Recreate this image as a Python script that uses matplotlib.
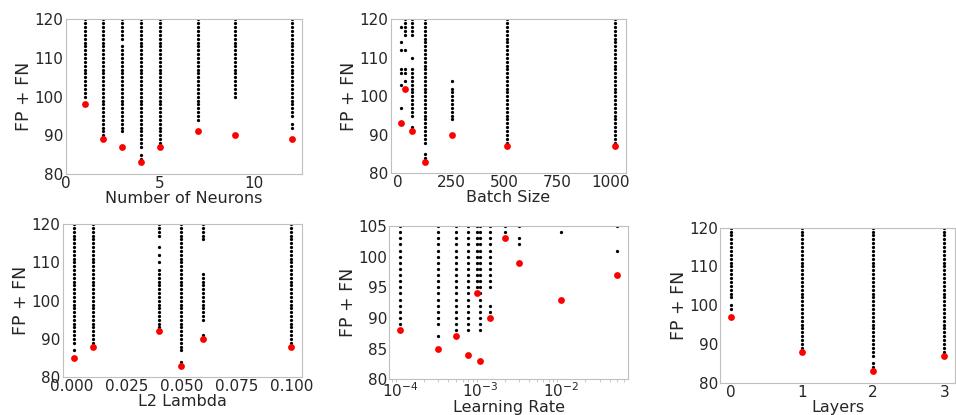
import numpy as np
import matplotlib
matplotlib.use("Agg")
import matplotlib.pyplot as plt


def runs(*spans):
    # spans are single values or (low, high) inclusive runs
    vals = []
    for s in spans:
        if isinstance(s, tuple):
            vals.extend(range(s[0], s[1] + 1))
        else:
            vals.append(s)
    return vals


# --- Number of Neurons ---
neurons_x = [1, 2, 3, 4, 5, 7, 9, 12]
neurons_best = [98, 89, 87, 83, 87, 91, 90, 89]
neurons_runs = [
    runs((100, 120)),
    runs((90, 120)),
    runs((91, 113), (115, 120)),
    runs(84, 85, (87, 120)),
    runs((88, 120)),
    runs((94, 120)),
    runs((100, 120)),
    runs(92, 93, (95, 120)),
]

# --- Batch Size ---
batch_x = [16, 32, 64, 128, 256, 512, 1024]
batch_best = [93, 102, 91, 83, 90, 87, 87]
batch_runs = [
    runs(97, 103, 106, 107, 112, 114, 118),
    runs(104, 106, 107, 112, (116, 120)),
    runs(92, (95, 107), 110, (116, 120)),
    runs(84, 85, (88, 120)),
    runs((94, 102), 104),
    runs((88, 120)),
    runs((88, 120)),
]

# --- L2 Lambda ---
l2_x = [0.001, 0.01, 0.04, 0.05, 0.06, 0.1]
l2_best = [85, 88, 92, 83, 90, 88]
l2_runs = [
    runs(87, (89, 120)),
    runs((89, 120)),
    runs(93, (94, 108), 110, 112, 114, (117, 120)),
    runs(84, (87, 120)),
    runs(91, (95, 107), (116, 120)),
    runs((89, 120)),
]

# --- Learning Rate ---
lr_x = [1e-4, 3e-4, 5e-4, 7e-4, 9e-4, 1e-3, 1.3e-3, 2e-3, 3e-3, 1e-2, 5e-2]
lr_best = [88, 85, 87, 84, 94, 83, 90, 103, 99, 93, 97]
lr_runs = [
    runs((89, 105)),
    runs(87, (89, 105)),
    runs((88, 105)),
    runs((88, 105)),
    runs((95, 105)),
    runs((88, 105)),
    runs(91, 92, (95, 105)),
    runs(104, 105),
    runs(102, 103, 105),
    runs(104),
    runs(101, 105),
]

# --- Layers ---
layers_x = [0, 1, 2, 3]
layers_best = [97, 88, 83, 87]
layers_runs = [
    runs(99, 100, (102, 120)),
    runs((89, 120)),
    runs(84, 85, (87, 120)),
    runs((88, 120)),
]

GRAY = "#bfbfbf"
TXT = "#262626"

fig = plt.figure(figsize=(9.56, 4.15), dpi=100)


def panel(rect, xs, best, cols, xlabel, ylim, yticks, logx=False, xticks=None):
    ax = fig.add_axes(rect)
    for x, col in zip(xs, cols):
        ax.scatter([x] * len(col), col, s=5.5, color="black", linewidths=0, zorder=2)
    ax.scatter(xs, best, s=24, color="red", linewidths=0, zorder=3)
    if logx:
        ax.set_xscale("log")
    if xticks is not None:
        ax.set_xticks(xticks)
    ax.set_ylim(*ylim)
    ax.set_yticks(yticks)
    ax.set_xlabel(xlabel, fontsize=11.5, color=TXT, labelpad=0)
    ax.set_ylabel("FP + FN", fontsize=12.5, color=TXT, labelpad=1)
    ax.tick_params(labelsize=11, labelcolor=TXT, color=GRAY, length=0, pad=1.5)
    ax.tick_params(which="minor", color=GRAY, length=2)
    for sp in ax.spines.values():
        sp.set_color(GRAY)
    return ax


panel([0.0687, 0.5807, 0.2475, 0.3728], neurons_x, neurons_best, neurons_runs,
      "Number of Neurons", (80, 120), [80, 90, 100, 110, 120], xticks=[0, 5, 10])
panel([0.4087, 0.5824, 0.2461, 0.3710], batch_x, batch_best, batch_runs,
      "Batch Size", (80, 120), [80, 90, 100, 110, 120], xticks=[0, 250, 500, 750, 1000])
panel([0.0656, 0.0908, 0.2506, 0.3694], l2_x, l2_best, l2_runs,
      "L2 Lambda", (80, 120), [80, 90, 100, 110, 120],
      xticks=[0.0, 0.025, 0.05, 0.075, 0.1])
panel([0.4069, 0.0860, 0.2503, 0.3694], lr_x, lr_best, lr_runs,
      "Learning Rate", (80, 105), [80, 85, 90, 95, 100, 105], logx=True)
panel([0.7531, 0.0778, 0.2460, 0.3735], layers_x, layers_best, layers_runs,
      "Layers", (80, 120), [80, 90, 100, 110, 120], xticks=[0, 1, 2, 3])

fig.savefig("out.png", dpi=100)
